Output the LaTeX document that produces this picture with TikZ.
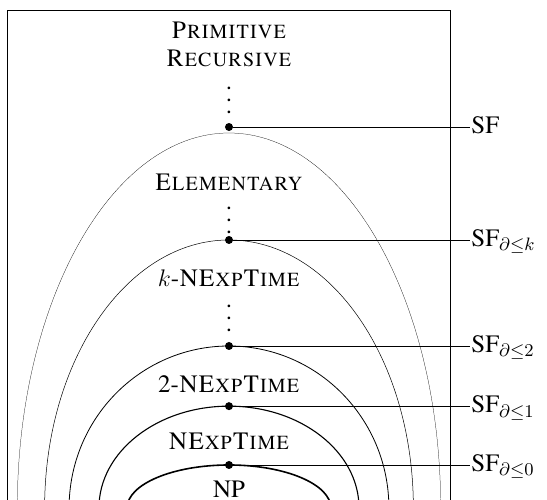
\documentclass[tikz,border=0pt]{standalone}
\usepackage[T1]{fontenc}
\usepackage{times}
\usetikzlibrary{positioning}

\newcommand{\vdotz}{\vbox{\baselineskip=6pt\lineskiplimit=-\maxdimen\hbox{.}\hbox{.}\hbox{.}}}

\tikzset{
    dot/.style={circle, fill, inner sep=0pt, minimum size=4pt},
    cls/.style={font=\fontsize{12.5}{14}\selectfont, align=center, inner sep=0.5pt},
    vd/.style={font=\fontsize{12.5}{14}\selectfont, inner sep=0pt},
    lab/.style={font=\fontsize{12.5}{14}\selectfont, anchor=west, inner xsep=0.5pt, inner ysep=0pt, text height=1.5ex, text depth=0pt}
}

\begin{document}
\begin{tikzpicture}

    \useasboundingbox (-4.024,0.158) rectangle (5.588,8.927);
    \clip (-4.024,0.158) rectangle (5.588,8.927);

    \draw[line width=0.5pt] (-3.884,-1) rectangle (3.884,8.751);

    \draw[line width=0.12pt] (0,0) ellipse [x radius=3.72, y radius=6.59];
    \draw[line width=0.25pt] (0,0) ellipse [x radius=3.24, y radius=4.71];
    \draw[line width=0.4pt] (0,0) ellipse [x radius=2.81, y radius=2.847];
    \draw[line width=0.55pt] (0,0) ellipse [x radius=2.285, y radius=1.79];
    \draw[line width=0.8pt] (0,0) ellipse [x radius=1.79, y radius=0.756];

    \draw(0,8.15) node[cls] (prim) {\textsc{Primitive}\\\textsc{Recursive}};
    \draw(0,7.17) node[vd] (vd1) {\vdotz};
    \draw(0,5.73) node[cls] (elem) {\textsc{Elementary}};
    \draw(0,5.06) node[vd] (vd2) {\vdotz};
    \draw(0,4.03) node[cls] (knexp) {$k$-\textsc{NExpTime}};
    \draw(0,3.33) node[vd] (vd3) {\vdotz};
    \draw(0,2.18) node[cls] (twonexp) {2-\textsc{NExpTime}};
    \draw(0,1.17) node[cls] (nexp) {\textsc{NExpTime}};
    \draw(0,0.33) node[cls] (np) {NP};

    \draw(0,6.695) node[dot] (sf) {};
    \draw(0,4.71) node[dot] (sfk) {};
    \draw(0,2.847) node[dot] (sftwo) {};
    \draw(0,1.79) node[dot] (sfone) {};
    \draw(0,0.756) node[dot] (sfzero) {};

    \draw(4.235,6.695) node[lab] (lsf) {SF};
    \draw(4.235,4.71) node[lab] (lsfk) {SF$_{\partial\leq k}$};
    \draw(4.235,2.847) node[lab] (lsftwo) {SF$_{\partial\leq 2}$};
    \draw(4.235,1.79) node[lab] (lsfone) {SF$_{\partial\leq 1}$};
    \draw(4.235,0.756) node[lab] (lsfzero) {SF$_{\partial\leq 0}$};

    \draw (sf) -- (lsf);
    \draw (sfk) -- (lsfk);
    \draw (sftwo) -- (lsftwo);
    \draw (sfone) -- (lsfone);
    \draw (sfzero) -- (lsfzero);

\end{tikzpicture}
\end{document}
